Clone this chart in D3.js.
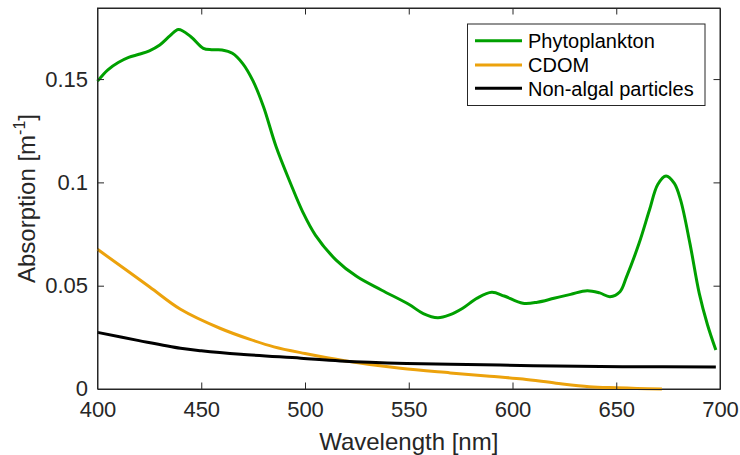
<!DOCTYPE html>
<html><head><meta charset="utf-8">
<script src="https://cdn.jsdelivr.net/npm/d3@7"></script>
<style>
body{margin:0;background:#fff;}
svg{display:block;font-family:"Liberation Sans",Arial,Helvetica,sans-serif;}
</style></head>
<body>
<svg id="chart" width="740" height="455"></svg>
<script>
const seriesNames = ["Phytoplankton", "CDOM", "Non-algal particles"];
const seriesColors = ["#00a000", "#eca20c", "#000000"];

const phytoWavelength = [400,405,410,415,420,425,430,435,439,445,451,455,460,465,470,475,480,486,493,499,505,515,525,537,550,557,564,570,576,583,590,596,605,612,620,628,636,642,647,651.8,655,661,666,670,674,678,681,685.5,690,694,698];
const phytoValues = [0.149,0.1545,0.158,0.1605,0.162,0.1637,0.1665,0.171,0.174,0.1705,0.1649,0.1642,0.1641,0.1625,0.1575,0.149,0.1366,0.1175,0.0996,0.0855,0.0745,0.0624,0.0544,0.0478,0.041,0.0365,0.0345,0.036,0.0391,0.044,0.0468,0.045,0.0415,0.042,0.0439,0.0458,0.0476,0.0465,0.0447,0.0471,0.0544,0.0705,0.0866,0.099,0.1031,0.0995,0.0915,0.0705,0.0463,0.031,0.0189];

const cdomWavelength = [400,425,440,459,473.5,485,500,519,546,570,589,605,621,637,650,660,672];
const cdomValues = [0.0676,0.0495,0.0386,0.0294,0.0240,0.0204,0.0172,0.0137,0.0100,0.0078,0.0062,0.0048,0.0028,0.0011,0.0006,0.0003,0.0];

const napWavelength = [400,420,440,450,469,498,517,549,594,621,653,698];
const napValues = [0.0274,0.0234,0.0197,0.0185,0.0168,0.0149,0.0136,0.0124,0.0116,0.0111,0.0108,0.0107];

const xTicks = [400,450,500,550,600,650,700];
const yTicks = [0,0.05,0.1,0.15];
const yTickLabels = ["0","0.05","0.1","0.15"];

const xDomain = [400,700];
const yDomain = [0,0.1844];

const svg = d3.select("#chart");
const pLeft = 97.5, pRight = 720, pTop = 8, pBottom = 389;
const x = d3.scaleLinear().domain(xDomain).range([pLeft,pRight]);
const y = d3.scaleLinear().domain(yDomain).range([pBottom,pTop]);
const axisColor = "#262626";
const tickLen = 6.5;

svg.append("rect").attr("x",pLeft).attr("y",pTop).attr("width",pRight-pLeft).attr("height",pBottom-pTop)
  .attr("fill","#fff").attr("stroke",axisColor).attr("stroke-width",1);

const series = [
  {w:phytoWavelength, v:phytoValues},
  {w:cdomWavelength, v:cdomValues},
  {w:napWavelength, v:napValues}
];
const line = d3.line().x(d=>x(d[0])).y(d=>y(d[1])).curve(d3.curveCatmullRom.alpha(0.5));
series.forEach((s,i)=>{
  const pts = s.w.map((w,j)=>[w,s.v[j]]);
  svg.append("path").attr("d",line(pts)).attr("fill","none")
    .attr("stroke",seriesColors[i]).attr("stroke-width",3)
    .attr("stroke-linejoin","round").attr("stroke-linecap","butt");
});

const fontSize = 22;
const xAxisB = svg.append("g").attr("transform",`translate(0,${pBottom})`)
  .call(d3.axisBottom(x).tickValues(xTicks).tickSizeInner(-tickLen).tickSizeOuter(0).tickPadding(15));
const xAxisT = svg.append("g").attr("transform",`translate(0,${pTop})`)
  .call(d3.axisTop(x).tickValues(xTicks).tickSizeInner(-tickLen).tickSizeOuter(0).tickFormat(""));
const yAxisL = svg.append("g").attr("transform",`translate(${pLeft},0)`)
  .call(d3.axisLeft(y).tickValues(yTicks).tickFormat((d,i)=>yTickLabels[i]).tickSizeInner(-tickLen).tickSizeOuter(0).tickPadding(9.5));
const yAxisR = svg.append("g").attr("transform",`translate(${pRight},0)`)
  .call(d3.axisRight(y).tickValues(yTicks).tickSizeInner(-tickLen).tickSizeOuter(0).tickFormat(""));
[xAxisB,xAxisT,yAxisL,yAxisR].forEach(g=>{
  g.select(".domain").attr("stroke",axisColor);
  g.selectAll(".tick line").attr("stroke",axisColor);
  g.selectAll(".tick text").attr("fill",axisColor).attr("font-size",fontSize)
    .attr("font-family","Liberation Sans, Arial, sans-serif");
});
xAxisB.selectAll(".tick text").attr("dy",null).attr("y",28);
yAxisL.selectAll(".tick").filter(d=>d===0).select("text").attr("dy","0.28em");
[xAxisB,xAxisT].forEach(g=>g.selectAll(".tick").filter(d=>d===400||d===700).select("line").remove());
[yAxisL,yAxisR].forEach(g=>g.selectAll(".tick").filter(d=>d===0).select("line").remove());

svg.append("text").attr("x",(pLeft+pRight)/2).attr("y",450).attr("text-anchor","middle")
  .attr("font-size",24).attr("fill",axisColor).text("Wavelength [nm]");
const yl = svg.append("text").attr("transform",`translate(35,${(pTop+pBottom)/2}) rotate(-90)`)
  .attr("text-anchor","middle").attr("font-size",24).attr("fill",axisColor);
yl.append("tspan").text("Absorption [m");
yl.append("tspan").attr("font-size",16).attr("dy",-10).text("-1");
yl.append("tspan").attr("dy",10).text("]");

const lg = svg.append("g");
lg.append("rect").attr("x",467.5).attr("y",24).attr("width",237.5).attr("height",81.5)
  .attr("fill","#fff").attr("stroke",axisColor).attr("stroke-width",1);
const rowsY = [40.7,65,88.3];
seriesNames.forEach((n,i)=>{
  lg.append("line").attr("x1",475).attr("x2",522).attr("y1",rowsY[i]).attr("y2",rowsY[i])
    .attr("stroke",seriesColors[i]).attr("stroke-width",3);
  lg.append("text").attr("x",528).attr("y",rowsY[i]).attr("dy","0.36em")
    .attr("font-size",20).attr("fill","#000").text(n);
});
</script>
</body></html>
